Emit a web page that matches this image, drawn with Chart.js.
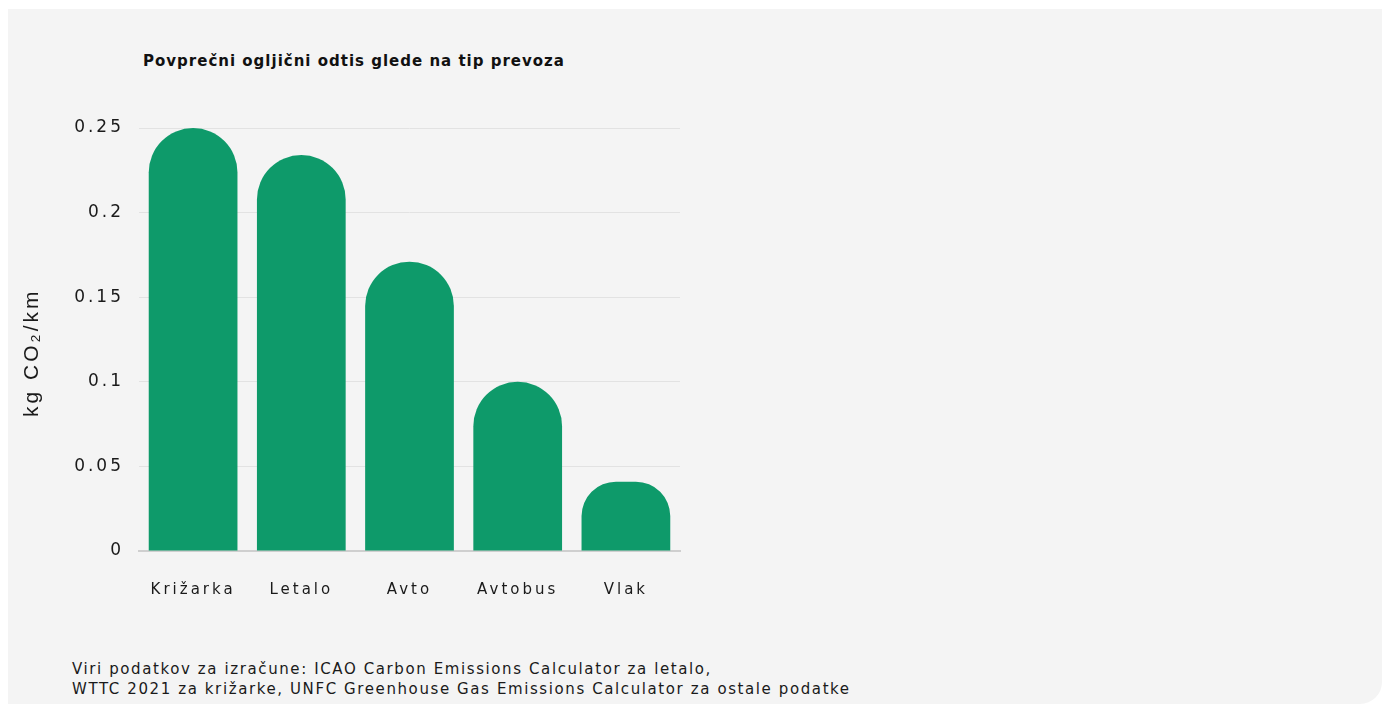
<!DOCTYPE html>
<html>
<head>
<meta charset="utf-8">
<script src="https://cdn.jsdelivr.net/npm/chart.js"></script>
<style>
  html, body { margin: 0; padding: 0; background: #ffffff; }
  body { width: 1382px; height: 704px; position: relative; overflow: hidden; }
  .panel {
    position: absolute; left: 8px; top: 9px; right: 0; bottom: 0;
    background: #f4f4f4; border-bottom-right-radius: 22px;
  }
  .title {
    position: absolute; left: 143px; top: 52px;
    font-family: "DejaVu Sans", sans-serif; font-weight: bold; font-size: 15px;
    letter-spacing: 1px; color: #111111; white-space: nowrap;
  }
  .note {
    position: absolute; left: 72px; top: 659px;
    font-family: "DejaVu Sans", sans-serif; font-size: 15px; line-height: 20px;
    letter-spacing: 1.6px; color: #1a1a1a; white-space: nowrap;
  }
  #chartBox { position: absolute; left: 0; top: 0; width: 720px; height: 640px; }
</style>
</head>
<body>
<div class="panel"></div>
<div class="title">Povprečni ogljični odtis glede na tip prevoza</div>
<div id="chartBox"><canvas id="chart"></canvas></div>
<div class="note">Viri podatkov za izračune: ICAO Carbon Emissions Calculator za letalo,<br>WTTC 2021 za križarke, UNFC Greenhouse Gas Emissions Calculator za ostale podatke</div>

<script>
  // kategorije in vrednosti (kg CO2/km)
  const categories = ['Križarka', 'Letalo', 'Avto', 'Avtobus', 'Vlak'];
  const emissions = [0.25, 0.234, 0.171, 0.1, 0.041];
  const tickValues = [0, 0.05, 0.1, 0.15, 0.2, 0.25];
  const tickLabels = ['0', '0.05', '0.1', '0.15', '0.2', '0.25'];

  const barColor = '#0e9a6a';

  // razmik med črkami (pisava v izvirniku je zelo široka)
  const spacingPlugin = {
    id: 'spacing',
    beforeLayout(chart) { chart.ctx.letterSpacing = '3px'; },
    beforeDraw(chart) { chart.ctx.letterSpacing = '3px'; }
  };

  const ctx = document.getElementById('chart').getContext('2d');
  new Chart(ctx, {
    type: 'bar',
    data: {
      labels: categories,
      datasets: [{
        data: emissions,
        backgroundColor: barColor,
        borderWidth: 0,
        borderSkipped: 'bottom',
        borderRadius: { topLeft: 45, topRight: 45, bottomLeft: 0, bottomRight: 0 },
        barPercentage: 0.82,
        categoryPercentage: 1
      }]
    },
    options: {
      responsive: true,
      maintainAspectRatio: false,
      animation: false,
      layout: { padding: { left: 20, right: 40, top: 128, bottom: 41 } },
      plugins: {
        legend: { display: false },
        tooltip: { enabled: false }
      },
      scales: {
        x: {
          grid: { display: false, drawTicks: false },
          border: { display: true, color: '#cfcfcf', width: 2 },
          ticks: {
            padding: 30,
            color: '#1a1a1a',
            font: { family: 'DejaVu Sans', size: 15 }
          },
          afterFit(scale) { scale.height = 48; }
        },
        y: {
          min: 0,
          max: 0.25,
          grid: { color: '#e2e2e2', lineWidth: 1, drawTicks: false },
          border: { display: false },
          afterBuildTicks(scale) { scale.ticks = tickValues.map(v => ({ value: v })); },
          ticks: {
            padding: 15,
            color: '#1a1a1a',
            font: { family: 'DejaVu Sans', size: 17 },
            callback: (v) => {
              const i = tickValues.indexOf(v);
              return i >= 0 ? tickLabels[i] : '';
            }
          },
          title: {
            display: true,
            text: 'kg CO₂/km   ',
            color: '#1a1a1a',
            font: { family: 'Liberation Sans', size: 21 },
            padding: { top: 0, bottom: 0 }
          },
          afterFit(scale) { scale.width = 119; }
        }
      }
    },
    plugins: [spacingPlugin]
  });
</script>
</body>
</html>
